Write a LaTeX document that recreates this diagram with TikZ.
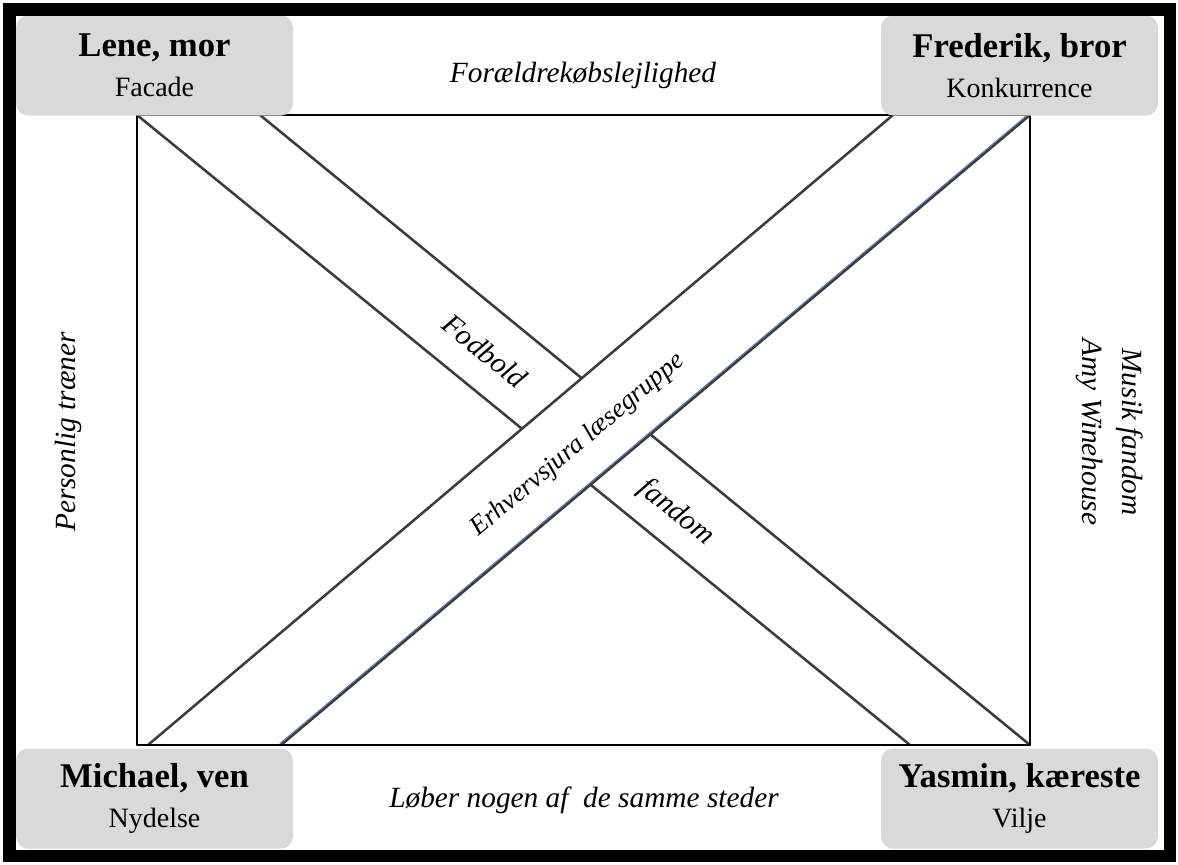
\documentclass[tikz,border=0pt]{standalone}
\usepackage{fontspec}
\setmainfont{Liberation Serif}[ItalicFont={Liberation Serif Italic}, BoldFont={Liberation Serif Bold}]
\definecolor{boxgray}{RGB}{217,217,217}
\definecolor{linegray}{RGB}{60,60,60}
\definecolor{edgeblue}{RGB}{70,110,190}
\begin{document}
\begin{tikzpicture}[x=0.75pt, y=-0.75pt, line join=round, line cap=round,
	person/.style={fill=boxgray, rounded corners=9pt, minimum width=207.75pt, minimum height=75pt, align=center, inner sep=0pt, font=\fontsize{21}{30}\selectfont},
	tag/.style={font=\fontsize{22}{30}\selectfont\itshape, inner sep=0pt, align=center},
	band/.style={draw=linegray, line width=1.9pt}]
	\useasboundingbox (0,0) rectangle (1178,864);
	\path
	(137,115) coordinate (TL)
	(1030,115) coordinate (TR)
	(137,745) coordinate (BL)
	(1030,745) coordinate (BR)
	(260,115) coordinate (F1)
	(910,745) coordinate (F2)
	(148,745) coordinate (E1)
	(893,115) coordinate (E2)
	(281,745) coordinate (E3)
	;
	% band from top left, cut by the other one
	\draw[band] (TL)--(F2) (F1)--(BR);
	\fill[white] (E1)--(E2)--(TR)--(E3)--cycle;
	\draw[band] (E1)--(E2) (E3)--(TR);
	\draw[edgeblue, line width=0.6pt] ([shift={(-1.2,-1.4)}]E3)--([shift={(-1.2,-1.4)}]TR);
	\draw[black, line width=2pt] (TL) rectangle (BR);
	% corner boxes
	\foreach \n/\x/\y/\who/\what in {lene/154.5/65.5/{Lene, mor}/Facade,
		frederik/1019.5/65.5/{Frederik, bror}/Konkurrence,
		michael/154.5/798.5/{Michael, ven}/Nydelse,
		yasmin/1019.5/798.5/{Yasmin, kæreste}/Vilje}
	\node[person] (\n) at (\x,\y) {{\fontsize{26}{30}\selectfont\bfseries \who}\\\what};
	\node[tag] (bolig) at (583,75) {Forældrekøbslejlighed};
	\node[tag] (loeb) at (584,800) {Løber nogen af\ \ de samme steder};
	\node[tag, rotate=90] (traener) at (68,432) {Personlig træner};
	\node[tag, rotate=-90] (musik) at (1110,432) {Musik fandom\\Amy Winehouse};
	\node[tag, rotate=-39] (fodbold) at (485,351) {Fodbold};
	\node[tag, rotate=-39] (fandom) at (676,513) {fandom};
	\node[tag, rotate=40, font=\fontsize{20}{24}\selectfont\itshape] (jura) at (578,445) {Erhvervsjura læsegruppe};
	\draw[line width=9.5pt, line cap=butt, line join=miter] (9.5,9.5) rectangle (1170,856);
\end{tikzpicture}
\end{document}
